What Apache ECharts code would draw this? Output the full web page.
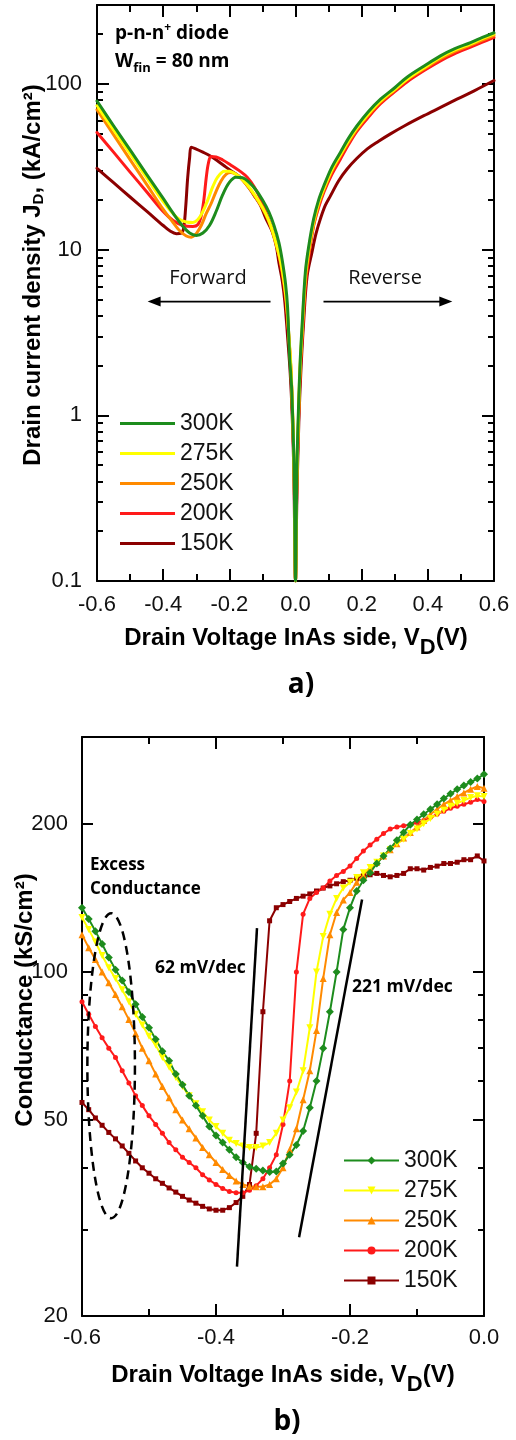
<!DOCTYPE html>
<html><head><meta charset="utf-8">
<script src="https://cdn.jsdelivr.net/npm/echarts/dist/echarts.min.js"></script>
<style>html,body{margin:0;padding:0;background:#fff}#c{width:516px;height:1440px}</style>
</head><body><div id="c"></div>
<script>
// ---------- Panel a) : J_D (kA/cm2) vs V_D (V), pairs [V, J] ----------
const jd300 = [[-0.60,79],[-0.55,56],[-0.50,40],[-0.45,28.5],[-0.40,20.4],[-0.37,16.6],[-0.34,13.8],[-0.32,12.6],[-0.30,12.2],[-0.28,12.6],[-0.26,14],[-0.24,17],[-0.22,21.5],[-0.20,25.5],[-0.18,27.4],[-0.16,27.2],[-0.14,25.5],[-0.12,23],[-0.10,20],[-0.08,16.8],[-0.065,14],[-0.05,11],[-0.04,8.6],[-0.03,6.2],[-0.024,4.5],[-0.018,2.3],[-0.012,1.5],[-0.008,0.9],[-0.004,0.45],[0,0.1],
  [0.004,0.45],[0.009,1.1],[0.014,2.1],[0.02,3.5],[0.03,7.4],[0.04,10.5],[0.055,15.4],[0.07,20],[0.086,24.4],[0.11,31.5],[0.136,38.8],[0.16,47],[0.186,56],[0.22,68],[0.257,81],[0.3,95],[0.337,110],[0.39,129],[0.438,148],[0.48,163],[0.529,178],[0.565,191],[0.6,204]];
const jd275 = [[-0.60,74],[-0.55,53],[-0.50,38],[-0.45,27.2],[-0.40,19.5],[-0.37,16.5],[-0.35,15.2],[-0.33,14.7],[-0.31,14.6],[-0.295,15.2],[-0.28,17],[-0.265,20],[-0.25,24],[-0.235,27.5],[-0.215,29.8],[-0.20,29.8],[-0.18,28.5],[-0.16,26.5],[-0.136,23.3],[-0.11,19.5],[-0.09,16.5],[-0.075,14],[-0.06,11.2],[-0.045,8.5],[-0.035,6.5],[-0.027,4.8],[-0.02,3],[-0.014,2],[-0.009,1.1],[-0.004,0.45],[0,0.1],
  [0.004,0.42],[0.009,1.0],[0.014,2.0],[0.02,3.3],[0.03,7],[0.04,10],[0.055,14.8],[0.07,19.3],[0.086,23.6],[0.11,30.5],[0.136,37.6],[0.16,45.5],[0.186,54.5],[0.22,66],[0.257,79],[0.3,93],[0.337,107],[0.39,126],[0.438,145],[0.48,160],[0.529,175],[0.565,188],[0.6,200]];
const jd250 = [[-0.60,70],[-0.55,49.5],[-0.50,35],[-0.45,24.8],[-0.40,17.5],[-0.37,14.6],[-0.35,13],[-0.33,12.1],[-0.315,11.9],[-0.30,12.5],[-0.285,14],[-0.27,16.5],[-0.255,19],[-0.24,22.5],[-0.225,26],[-0.21,28.5],[-0.195,29.2],[-0.18,28.5],[-0.16,26.3],[-0.136,23],[-0.11,19.2],[-0.09,16.3],[-0.075,13.8],[-0.06,11],[-0.045,8.4],[-0.035,6.4],[-0.027,4.7],[-0.02,3],[-0.014,1.9],[-0.009,1.05],[-0.004,0.42],[0,0.1],
  [0.004,0.4],[0.009,0.95],[0.014,1.9],[0.02,3.1],[0.03,6.6],[0.04,9.5],[0.055,14.2],[0.07,18.7],[0.086,23],[0.11,29.8],[0.136,37],[0.16,44.5],[0.186,53.5],[0.22,65],[0.257,78],[0.3,92],[0.337,106],[0.39,124],[0.438,142],[0.48,157],[0.529,172],[0.565,184],[0.6,196]];
const jd200 = [[-0.60,51],[-0.55,38.8],[-0.50,29.4],[-0.45,22.4],[-0.40,17],[-0.37,15],[-0.34,14],[-0.31,13.8],[-0.295,14.2],[-0.285,16],[-0.277,20],[-0.27,27],[-0.263,33.5],[-0.255,36.5],[-0.24,36.3],[-0.22,34.8],[-0.196,32.5],[-0.17,30],[-0.146,27.4],[-0.125,24],[-0.106,20.3],[-0.085,16],[-0.068,12.8],[-0.055,10.3],[-0.045,8.2],[-0.035,6.2],[-0.027,4.5],[-0.02,2.9],[-0.014,1.9],[-0.009,1.0],[-0.004,0.42],[0,0.1],
  [0.004,0.38],[0.009,0.9],[0.014,1.8],[0.02,2.9],[0.03,6],[0.04,9],[0.055,14],[0.07,18],[0.086,22.3],[0.11,28.5],[0.136,35.3],[0.16,43],[0.186,52],[0.22,63],[0.257,76],[0.3,90],[0.337,103],[0.39,121],[0.438,138],[0.48,152],[0.529,167],[0.565,179],[0.6,191]];
const jd150 = [[-0.60,31],[-0.55,25.4],[-0.50,20.8],[-0.45,17.1],[-0.40,14],[-0.38,13],[-0.36,12.5],[-0.345,12.6],[-0.338,13.5],[-0.332,18],[-0.326,27],[-0.32,36],[-0.315,41.6],[-0.30,40.5],[-0.28,38.8],[-0.26,37],[-0.237,34.5],[-0.21,31.5],[-0.185,29],[-0.166,27.3],[-0.14,23.5],[-0.12,20.5],[-0.106,18.5],[-0.09,15.5],[-0.07,12.8],[-0.058,10.5],[-0.05,8.3],[-0.04,6.5],[-0.032,4.8],[-0.024,3],[-0.016,1.8],[-0.01,1.0],[-0.005,0.45],[0,0.1],
  [0.004,0.3],[0.01,0.9],[0.016,1.8],[0.024,3.5],[0.035,6.9],[0.05,9.7],[0.062,12.5],[0.0755,15.4],[0.09,18.5],[0.106,21.2],[0.13,26],[0.156,30.7],[0.185,35.5],[0.217,40.6],[0.25,45],[0.287,50],[0.33,56],[0.388,64.4],[0.44,72.5],[0.488,81],[0.54,91],[0.6,105]];

// ---------- Panel b) : conductance (kS/cm2) vs V_D (V) ----------
const vB = [-0.60,-0.59,-0.58,-0.57,-0.56,-0.55,-0.54,-0.53,-0.52,-0.51,
  -0.50,-0.49,-0.48,-0.47,-0.46,-0.45,-0.44,-0.43,-0.42,-0.41,
  -0.40,-0.39,-0.38,-0.37,-0.36,-0.35,-0.34,-0.33,-0.32,-0.31,
  -0.30,-0.29,-0.28,-0.27,-0.26,-0.25,-0.24,-0.23,-0.22,-0.21,
  -0.20,-0.19,-0.18,-0.17,-0.16,-0.15,-0.14,-0.13,-0.12,-0.11,
  -0.10,-0.09,-0.08,-0.07,-0.06,-0.05,-0.04,-0.03,-0.02,-0.01,0.00];
const g300 = [135,128,121,114,107,101,96,91,86,81,
  77,73,69,66,62,59,56,53.5,51,48.5,
  46.5,45,43.5,42,41,40.2,39.8,39.5,39.2,39.3,
  40.8,42.5,44.5,47.5,53,60,70,83,100,122,
  135,146,153.5,159,166,172,178,185,192,199,
  204,209,214,219,225,230,235,239,243,247,252];
const g275 = [129,122,115,108,102,97,92,87,82,78,
  74,71,67,64,61,58.5,56,54,52,50,
  48.5,47,45.5,44.8,44.3,44,44,44.3,45,47,
  50,53,57,63,77,100,118,131,141,148,
  152,155.5,159,163,167,172,177,182,186,191,
  195,200,205,209,213,217,220,223,226,228,227];
const g250 = [119,112,106,100,95,90,85,80,75,70,
  66,62,58.5,55.5,52.5,50,48,46,44,42.5,
  41,39.7,38.6,37.6,37,36.7,36.6,36.6,37,38,
  40,43.5,48,55,63,76,97,119,132,140,
  145,152,157,162,167,172,177,182,187,192,
  197,203,209,214,219,223,227,231,235,238,236];
const g200 = [87,82,77.5,73.5,70,67,63,59.5,56,53.5,
  51,49,47,45,43.5,42,41,40,38.7,37.8,
  37,36.3,35.8,35.6,35.6,36,36.8,38,40,42.5,
  49,60,100,131,141,145,148,153,157,160,
  164,170,176,181,186,191,195,197,198,199,
  201,203,206,209,212,215,217,219,221,224,222];
const g150 = [54.3,52.5,50.5,48.8,47.2,45.8,44.3,42.8,41.3,40,
  39,38,37.2,36.4,35.7,35,34.4,33.9,33.4,33,
  32.8,32.8,33.2,34,35,37,47,83,127,135,
  137,139,141,142.5,144,146,148,149.5,151,152.5,
  153.5,155,156.5,157.5,158.5,157,156,157,158.5,162,
  162,161,163,164,166,166,167,169,169,172,168];

// guide lines [V, G] end points and annotation geometry (data units)
const guide62 = [[-0.3388,122.7],[-0.3687,25.2]];
const guide221 = [[-0.182,140.3],[-0.276,28.9]];
const excessEllipse = [-0.5565, 0.0355, 131.6, 31.6]; // centre V, half width V, top G, bottom G
const arrowForward = [[-0.0755,4.86],[-0.447,4.86]];
const arrowReverse = [[0.0846,4.86],[0.474,4.86]];

// tick values
const yMajorA = [0.1,1,10,100];
const yMinorA = [0.2,0.3,0.4,0.5,0.6,0.7,0.8,0.9,2,3,4,5,6,7,8,9,20,30,40,50,60,70,80,90,200];
const yMajorB = [20,50,100,200];
const yMinorB = [30,40,60,70,80,90];
const temps = ['300K','275K','250K','200K','150K'];

const colors = {'300K':'#1d8c1d','275K':'#ffff00','250K':'#ff8a00','200K':'#ff1a1a','150K':'#8b0000'};
const symbolsB = {'300K':['diamond',8,0],'275K':['triangle',7,180],'250K':['triangle',7,0],'200K':['circle',5,0],'150K':['rect',5,0]};

const AR = 'Liberation Sans, Arial, sans-serif';
const OS = 'Open Sans, sans-serif';
const black = {color:'#000', width:2};

function xAx(grid, pos, min, max, labels, margin){
  return {type:'value', gridIndex:grid, position:pos, min:min, max:max, interval:0.2,
    axisLine:{show:true, onZero:false, lineStyle:black},
    axisTick:{show:true, inside:true, length:12, lineStyle:black},
    minorTick:{show:true, splitNumber:2, length:7, lineStyle:black},
    splitLine:{show:false}, minorSplitLine:{show:false},
    axisLabel:{show:labels, margin:margin, fontSize:22, color:'#111', fontFamily:AR,
      formatter:v=>Math.abs(v)<1e-9?'0.0':v.toFixed(1)}};
}
function yAx(grid, pos, min, max, vals, len, labels, line, margin){
  return {type:'log', logBase:10, gridIndex:grid, position:pos, min:min, max:max,
    axisLine:{show:line, onZero:false, lineStyle:black},
    axisTick:{show:true, inside:true, length:len, customValues:vals, lineStyle:black},
    minorTick:{show:false}, splitLine:{show:false},
    axisLabel:{show:labels, customValues:vals, margin:margin, fontSize:22, color:'#111', fontFamily:AR,
      formatter:v=>v<0.5?'0.1':String(Math.round(v))}};
}

const series = [];
const order = ['150K','200K','250K','275K','300K'];
const topData = {'300K':jd300,'275K':jd275,'250K':jd250,'200K':jd200,'150K':jd150};
const botData = {'300K':g300,'275K':g275,'250K':g250,'200K':g200,'150K':g150};
order.forEach(t=>{
  series.push({type:'line', name:t, data:topData[t], xAxisIndex:0, yAxisIndex:0,
    symbol:'none', showSymbol:false, smooth:0.35,
    lineStyle:{width:3, color:colors[t], join:'round', cap:'round'}, itemStyle:{color:colors[t]}});
});
order.forEach(t=>{
  const s = symbolsB[t];
  series.push({type:'line', name:'b'+t, data:vB.map((v,i)=>[v, botData[t][i]]), xAxisIndex:2, yAxisIndex:4,
    symbol:s[0], symbolSize:s[1], symbolRotate:s[2], showSymbol:true,
    lineStyle:{width:2, color:colors[t]}, itemStyle:{color:colors[t]}});
});
[guide62, guide221].forEach(g=>{
  series.push({type:'line', data:g, xAxisIndex:2, yAxisIndex:4, symbol:'none', silent:true, z:6,
    lineStyle:{width:2.5, color:'#000'}});
});

const chart = echarts.init(document.getElementById('c'), null, {renderer:'canvas'});
chart.setOption({
  animation:false,
  backgroundColor:'#fff',
  grid:[{left:97, top:5, width:397, height:576},{left:82, top:737, width:402, height:579}],
  xAxis:[xAx(0,'bottom',-0.6,0.6,true,13), xAx(0,'top',-0.6,0.6,false,8),
         xAx(1,'bottom',-0.6,0,true,11), xAx(1,'top',-0.6,0,false,8)],
  yAxis:[yAx(0,'left',0.1,300,yMajorA,12,true,true,15), yAx(0,'left',0.1,300,yMinorA,6,false,false,8),
         yAx(0,'right',0.1,300,yMajorA,12,false,true,8), yAx(0,'right',0.1,300,yMinorA,6,false,false,8),
         yAx(1,'left',20,300,yMajorB,11,true,true,14), yAx(1,'left',20,300,yMinorB,6,false,false,8),
         yAx(1,'right',20,300,yMajorB,11,false,true,8), yAx(1,'right',20,300,yMinorB,6,false,false,8)],
  legend:[
    {orient:'vertical', left:120, top:412, itemWidth:55, itemHeight:3, itemGap:7, padding:0, selectedMode:false, icon:'rect',
     textStyle:{fontSize:23, fontFamily:AR, color:'#111'}, data:temps},
    {orient:'vertical', left:343, top:1149, itemWidth:55, itemHeight:10, itemGap:7, padding:0, selectedMode:false,
     textStyle:{fontSize:23, fontFamily:AR, color:'#111'}, data:temps.map(t=>'b'+t), formatter:n=>n.slice(1)}
  ],
  series:series
});

// ---------- annotations ----------
const P = (ax, ay, pt)=>chart.convertToPixel({xAxisIndex:ax, yAxisIndex:ay}, pt);
function arrow(a){
  const p0 = P(0,0,a[0]), p1 = P(0,0,a[1]);
  const dir = Math.sign(p1[0]-p0[0]);
  return [
    {type:'line', z:20, shape:{x1:p0[0], y1:p0[1], x2:p1[0]-dir*8, y2:p1[1]}, style:{stroke:'#000', lineWidth:1.8}},
    {type:'polygon', z:20, shape:{points:[[p1[0],p1[1]],[p1[0]-dir*13,p1[1]-5],[p1[0]-dir*13,p1[1]+5]]}, style:{fill:'#000'}}
  ];
}
const eTop = P(2,4,[excessEllipse[0], excessEllipse[2]]);
const eBot = P(2,4,[excessEllipse[0], excessEllipse[3]]);
const eLeft = P(2,4,[excessEllipse[0]-excessEllipse[1], excessEllipse[2]]);

const boldAR = {fontFamily:AR, fontWeight:'bold', fill:'#000'};
const g = [
  {type:'text', z:20, x:33, y:275, rotation:Math.PI/2,
   style:Object.assign({text:'Drain current density J{s|D}, (kA/cm²)', fontSize:24, align:'center', verticalAlign:'middle',
     rich:{s:{fontSize:15, fontFamily:AR, fontWeight:'bold', padding:[11,0,0,0]}}}, boldAR)},
  {type:'text', z:20, x:296, y:638,
   style:Object.assign({text:'Drain Voltage InAs side, V{d|D}(V)', fontSize:24, align:'center', verticalAlign:'middle',
     rich:{d:{fontSize:22, fontFamily:AR, fontWeight:'bold', padding:[20,0,0,0]}}}, boldAR)},
  {type:'text', z:20, x:25, y:1000, rotation:Math.PI/2,
   style:Object.assign({text:'Conductance (kS/cm²)', fontSize:24, align:'center', verticalAlign:'middle'}, boldAR)},
  {type:'text', z:20, x:283, y:1375,
   style:Object.assign({text:'Drain Voltage InAs side, V{d|D}(V)', fontSize:24, align:'center', verticalAlign:'middle',
     rich:{d:{fontSize:22, fontFamily:AR, fontWeight:'bold', padding:[20,0,0,0]}}}, boldAR)},
  {type:'text', z:20, x:115, y:34,
   style:{text:'p-n-n{u|+} diode', fontSize:19, fontFamily:OS, fontWeight:'bold', fill:'#000', align:'left', verticalAlign:'middle',
     rich:{u:{fontSize:12, fontFamily:OS, fontWeight:'bold', padding:[0,0,12,0]}}}},
  {type:'text', z:20, x:115, y:62,
   style:{text:'W{s|fin} = 80 nm', fontSize:19, fontFamily:OS, fontWeight:'bold', fill:'#000', align:'left', verticalAlign:'middle',
     rich:{s:{fontSize:13, fontFamily:OS, fontWeight:'bold', padding:[12,0,0,0]}}}},
  {type:'text', z:20, x:208, y:278, style:{text:'Forward', fontSize:20, fontFamily:OS, fill:'#111', align:'center', verticalAlign:'middle'}},
  {type:'text', z:20, x:385, y:278, style:{text:'Reverse', fontSize:20, fontFamily:OS, fill:'#111', align:'center', verticalAlign:'middle'}},
  {type:'text', z:20, x:301, y:685, style:{text:'a)', fontSize:28, fontFamily:OS, fontWeight:'bold', fill:'#000', align:'center', verticalAlign:'middle'}},
  {type:'text', z:20, x:287, y:1422, style:{text:'b)', fontSize:28, fontFamily:OS, fontWeight:'bold', fill:'#000', align:'center', verticalAlign:'middle'}},
  {type:'text', z:20, x:90, y:865, style:{text:'Excess', fontSize:17, fontFamily:OS, fontWeight:'bold', fill:'#000', align:'left', verticalAlign:'middle'}},
  {type:'text', z:20, x:90, y:889, style:{text:'Conductance', fontSize:17, fontFamily:OS, fontWeight:'bold', fill:'#000', align:'left', verticalAlign:'middle'}},
  {type:'text', z:20, x:155, y:968, style:{text:'62 mV/dec', fontSize:17.5, fontFamily:OS, fontWeight:'bold', fill:'#000', align:'left', verticalAlign:'middle'}},
  {type:'text', z:20, x:352, y:987, style:{text:'221 mV/dec', fontSize:17.5, fontFamily:OS, fontWeight:'bold', fill:'#000', align:'left', verticalAlign:'middle'}},
  {type:'ellipse', z:20, shape:{cx:eTop[0], cy:(eTop[1]+eBot[1])/2, rx:eTop[0]-eLeft[0], ry:(eBot[1]-eTop[1])/2},
   style:{fill:'none', stroke:'#000', lineWidth:2.5, lineDash:[9,6]}}
].concat(arrow(arrowForward), arrow(arrowReverse));
chart.setOption({graphic:g});
</script></body></html>
